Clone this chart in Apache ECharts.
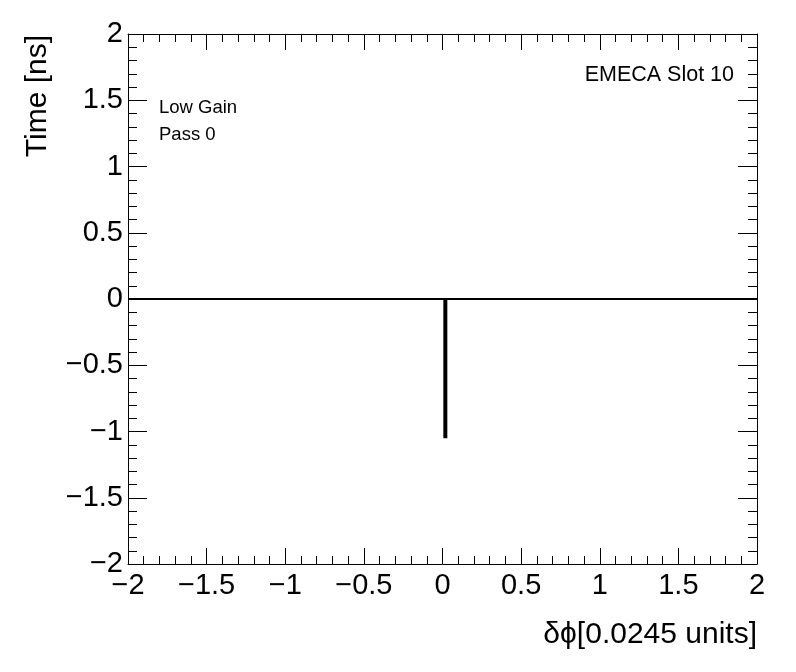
<!DOCTYPE html>
<html>
<head>
<meta charset="utf-8">
<script src="https://cdn.jsdelivr.net/npm/echarts@6/dist/echarts.min.js"></script>
<style>html,body{margin:0;padding:0;background:#fff}#c{width:796px;height:672px}</style>
</head>
<body>
<div id="c"></div>
<script>
// Data
const xRange = [-2, 2];
const yRange = [-2, 2];
const baselineX = [-2, 2];
const baselineY = [0, 0];
const spikeX = [0.018, 0.018];
const spikeY = [0, -1.05];
const xTitle = 'δϕ[0.0245 units]';
const yTitle = 'Time [ns]';
const labelsLeft = ['Low Gain', 'Pass 0'];
const labelRight = 'EMECA Slot 10';

const FONT = '"Liberation Sans", Arial, Helvetica, sans-serif';
const fmt = v => {
  let s = String(Math.round(v * 10) / 10);
  return s.replace('-', '\u2212');
};

const chart = echarts.init(document.getElementById('c'), null, {renderer: 'canvas'});
const axisCommon = (len, mlen) => ({
  type: 'value', min: xRange[0], max: xRange[1], interval: 0.5,
  axisLine: {show: true, onZero: false, lineStyle: {color: '#000', width: 1}},
  axisTick: {show: true, inside: true, length: len, lineStyle: {color: '#000', width: 1}},
  minorTick: {show: true, splitNumber: 5, length: mlen, lineStyle: {color: '#000', width: 1}},
  splitLine: {show: false}, minorSplitLine: {show: false}
});

const option = {
  backgroundColor: '#fff',
  animation: false,
  grid: {left: 128, right: 39, top: 34, bottom: 108, containLabel: false},
  xAxis: [
    Object.assign(axisCommon(16, 8), {
      position: 'bottom',
      axisLabel: {show: true, margin: 7, color: '#000', fontSize: 29, fontFamily: FONT, formatter: fmt, showMinLabel: true, showMaxLabel: true}
    }),
    Object.assign(axisCommon(16, 8), {position: 'top', axisLabel: {show: false}})
  ],
  yAxis: [
    Object.assign(axisCommon(19, 9), {
      min: yRange[0], max: yRange[1], position: 'left',
      axisLabel: {show: true, margin: 5, color: '#000', fontSize: 29, fontFamily: FONT, formatter: fmt, showMinLabel: true, showMaxLabel: true}
    }),
    Object.assign(axisCommon(19, 9), {min: yRange[0], max: yRange[1], position: 'right', axisLabel: {show: false}})
  ],
  series: [
    {
      type: 'line', xAxisIndex: 0, yAxisIndex: 0, symbol: 'none', silent: true,
      data: baselineX.map((x, i) => [x, baselineY[i]]),
      lineStyle: {color: '#000', width: 2}
    },
    {
      type: 'line', xAxisIndex: 0, yAxisIndex: 0, symbol: 'none', silent: true,
      data: spikeX.map((x, i) => [x, spikeY[i]]),
      lineStyle: {color: '#000', width: 4, cap: 'butt'}
    }
  ],
  graphic: [
    {type: 'text', x: 757, y: 635, style: {text: xTitle, font: '30px ' + FONT, fill: '#000', align: 'right', verticalAlign: 'middle'}},
    {type: 'text', x: 38, y: 35, rotation: Math.PI / 2, style: {text: yTitle, font: '30px ' + FONT, fill: '#000', align: 'right', verticalAlign: 'middle'}},
    {type: 'text', x: 159, y: 108, style: {text: labelsLeft[0], font: '18.5px ' + FONT, fill: '#000', align: 'left', verticalAlign: 'middle'}},
    {type: 'text', x: 159, y: 135, style: {text: labelsLeft[1], font: '18.5px ' + FONT, fill: '#000', align: 'left', verticalAlign: 'middle'}},
    {type: 'text', x: 734, y: 75, style: {text: labelRight, font: '21.5px ' + FONT, fill: '#000', align: 'right', verticalAlign: 'middle'}}
  ]
};
chart.setOption(option);
</script>
</body>
</html>
